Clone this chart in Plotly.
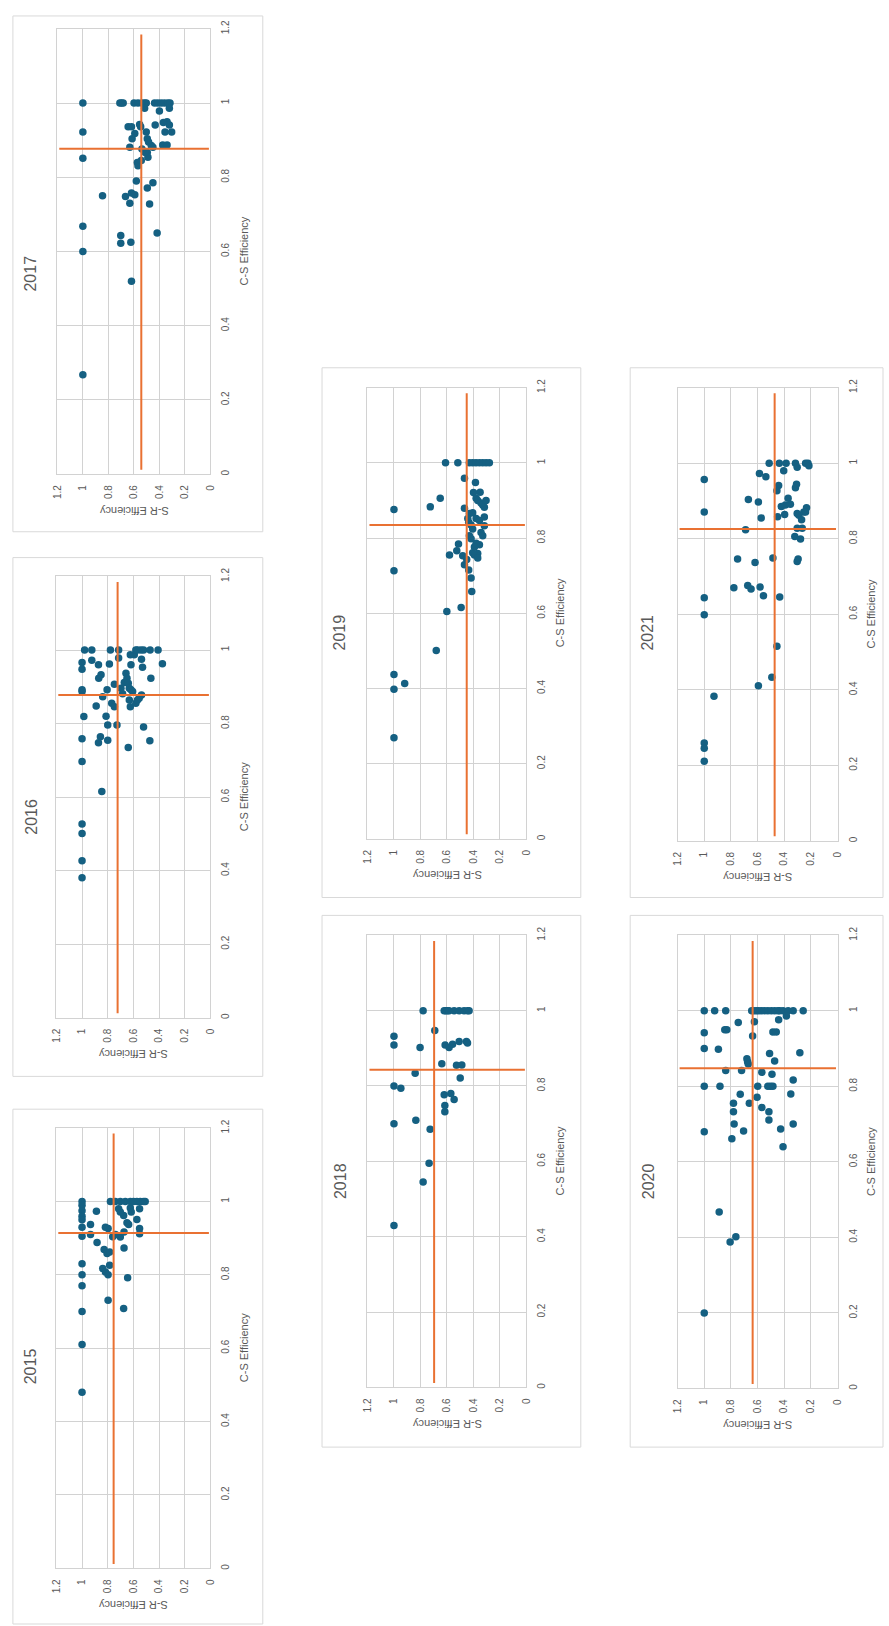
import plotly.graph_objects as go

# ---------------- data ----------------
YEARS = ["2015", "2016", "2017", "2018", "2019", "2020", "2021"]
AXIS_TICKS = [0, 0.2, 0.4, 0.6, 0.8, 1, 1.2]
AXIS_TICK_TEXT = ["0", "0.2", "0.4", "0.6", "0.8", "1", "1.2"]
X_TITLE = "C-S Efficiency"
Y_TITLE = "S-R Efficiency"

SR_2015 = [1.0, 1.0, 1.0, 1.0, 1.0, 1.0, 1.0, 1.0, 1.0, 1.0, 1.0, 1.0, 1.0,
           0.888, 0.934, 0.934, 0.883, 0.828, 0.818, 0.797, 0.839, 0.818, 0.797, 0.785,
           0.805, 0.785, 0.797, 0.676, 0.645, 0.673, 0.702, 0.761, 0.74, 0.673, 0.637,
           0.65, 0.573, 0.552, 0.552, 0.552, 0.624, 0.676, 0.702, 0.715, 0.617,
           0.779, 0.741, 0.702, 0.663, 0.624, 0.599, 0.573, 0.547, 0.521, 0.508]
CS_2015 = [1.0, 0.99, 0.975, 0.96, 0.95, 0.93, 0.905, 0.83, 0.80, 0.77, 0.70, 0.61, 0.48,
           0.973, 0.937, 0.91, 0.888, 0.869, 0.93, 0.926, 0.817, 0.808, 0.80, 0.826,
           0.858, 0.862, 0.731, 0.708, 0.792, 0.873, 0.903, 0.904, 0.91, 0.917, 0.937,
           0.942, 0.951, 0.926, 0.912, 0.98, 0.982, 0.962, 0.971, 0.98, 0.971,
           1.0, 1.0, 1.0, 1.0, 1.0, 1.0, 1.0, 1.0, 1.0, 1.0]

SR_2016 = [1.0, 1.0, 1.0, 1.0, 0.986, 1.0, 1.0, 1.0, 1.0, 1.0, 1.0,
           0.98, 0.924, 0.924, 0.872, 0.87, 0.852, 0.89, 0.839, 0.805, 0.813, 0.8,
           0.857, 0.872, 0.8, 0.846, 0.779, 0.787, 0.715, 0.715, 0.728, 0.748, 0.769,
           0.748, 0.697, 0.684, 0.671, 0.658, 0.65, 0.64, 0.632, 0.619, 0.606, 0.632,
           0.624, 0.64, 0.624, 0.619, 0.593, 0.581, 0.568, 0.542, 0.521, 0.47, 0.408,
           0.537, 0.529, 0.555, 0.537, 0.581, 0.568, 0.521, 0.464, 0.472, 0.374]
CS_2016 = [0.966, 0.948, 0.892, 0.887, 0.819, 0.759, 0.697, 0.527, 0.501, 0.427, 0.381,
           1.0, 1.0, 0.972, 0.96, 0.923, 0.933, 0.848, 0.873, 0.892, 0.82, 0.796,
           0.764, 0.748, 0.755, 0.615, 1.0, 0.962, 1.0, 0.978, 0.796, 0.907, 0.855,
           0.846, 0.896, 0.881, 0.912, 0.937, 0.923, 0.91, 0.896, 0.892, 0.887, 0.864,
           0.846, 0.735, 0.987, 0.96, 0.987, 1.0, 1.0, 1.0, 1.0, 1.0, 1.0,
           0.975, 0.953, 0.869, 0.878, 0.855, 0.864, 0.791, 0.923, 0.753, 0.963]

SR_2017 = [1.0, 1.0, 1.0, 1.0, 1.0, 1.0,
           0.846, 0.71, 0.697, 0.684, 0.703, 0.703, 0.624, 0.619, 0.666, 0.632, 0.619,
           0.593, 0.581, 0.568, 0.573, 0.632, 0.614, 0.645, 0.619, 0.593, 0.547, 0.555,
           0.599, 0.568, 0.537, 0.516, 0.503, 0.516, 0.542, 0.537, 0.503, 0.495, 0.485,
           0.464, 0.451, 0.495, 0.49, 0.511, 0.495, 0.451, 0.477, 0.418,
           0.438, 0.413, 0.387, 0.361, 0.335, 0.317, 0.433, 0.4, 0.374, 0.34, 0.356,
           0.322, 0.34, 0.369, 0.304, 0.322]
CS_2017 = [1.0, 0.922, 0.851, 0.668, 0.6, 0.268,
           0.75, 1.0, 1.0, 1.0, 0.643, 0.622, 0.625, 0.52, 0.748, 0.73, 0.758,
           0.753, 0.79, 0.831, 0.84, 0.881, 0.904, 0.936, 0.936, 0.918, 0.936, 0.942,
           1.0, 1.0, 1.0, 1.0, 1.0, 0.986, 0.845, 0.876, 0.922, 0.904, 0.895,
           0.886, 0.881, 0.867, 0.854, 0.867, 0.771, 0.785, 0.728, 0.65,
           1.0, 1.0, 1.0, 1.0, 1.0, 1.0, 0.941, 0.979, 0.887, 0.887, 0.922,
           0.941, 0.95, 0.948, 0.922, 0.986]

SR_2018 = [1.0, 1.0, 1.0, 1.0, 1.0, 0.948, 0.84, 0.835, 0.803, 0.78, 0.78, 0.735,
           0.727, 0.692, 0.639, 0.621, 0.609, 0.596, 0.584, 0.546, 0.508, 0.471,
           0.445, 0.433, 0.614, 0.584, 0.558, 0.508, 0.453, 0.445, 0.528, 0.488,
           0.5, 0.621, 0.571, 0.546, 0.616, 0.616]
CS_2018 = [0.932, 0.909, 0.8, 0.7, 0.43, 0.794, 0.834, 0.709, 0.902, 1.0, 0.545, 0.595,
           0.685, 0.947, 0.859, 1.0, 1.0, 1.0, 1.0, 1.0, 1.0, 1.0,
           1.0, 1.0, 0.909, 0.902, 0.911, 0.918, 0.918, 0.914, 0.855, 0.856,
           0.821, 0.777, 0.78, 0.764, 0.748, 0.732]

SR_2019 = [1.0, 1.0, 1.0, 1.0, 1.0, 0.919, 0.726, 0.651, 0.681, 0.611, 0.601, 0.493,
           0.581, 0.526, 0.513, 0.518, 0.468, 0.468, 0.481, 0.468, 0.451, 0.436,
           0.418, 0.413, 0.431, 0.406, 0.381, 0.355, 0.33, 0.305, 0.28, 0.385, 0.4,
           0.38, 0.35, 0.368, 0.343, 0.33, 0.305, 0.318, 0.431, 0.406, 0.436, 0.38,
           0.355, 0.318, 0.418, 0.406, 0.318, 0.343, 0.33, 0.431, 0.418, 0.38, 0.355,
           0.368, 0.393, 0.406, 0.368, 0.393, 0.443]
CS_2019 = [0.876, 0.713, 0.437, 0.398, 0.269, 0.413, 0.883, 0.906, 0.501, 1.0, 0.605, 0.615,
           0.755, 0.766, 0.784, 1.0, 0.959, 0.879, 0.753, 0.729, 0.743, 0.715,
           0.694, 0.658, 1.0, 1.0, 1.0, 1.0, 1.0, 1.0, 1.0, 0.948, 0.921,
           0.906, 0.922, 0.9, 0.893, 0.888, 0.9, 0.882, 0.865, 0.867, 0.842, 0.852,
           0.847, 0.856, 0.835, 0.824, 0.833, 0.815, 0.806, 0.806, 0.798, 0.786, 0.782,
           0.759, 0.755, 0.761, 0.747, 0.776, 0.852]

SR_2020 = [1.0, 1.0, 1.0, 1.0, 1.0, 1.0, 0.922, 0.839, 0.846, 0.831, 0.894, 0.882,
           0.839, 0.888, 0.806, 0.763, 0.793, 0.781, 0.776, 0.781, 0.73, 0.705,
           0.745, 0.72, 0.68, 0.675, 0.67, 0.662, 0.644, 0.624, 0.637, 0.599, 0.604,
           0.568, 0.568, 0.629, 0.611, 0.594, 0.573, 0.548, 0.523, 0.497, 0.472,
           0.447, 0.434, 0.409, 0.371, 0.333, 0.258, 0.384, 0.442, 0.485, 0.46,
           0.51, 0.472, 0.492, 0.523, 0.503, 0.485, 0.515, 0.515, 0.427, 0.409,
           0.333, 0.351, 0.333, 0.283]
CS_2020 = [1.0, 0.942, 0.9, 0.8, 0.68, 0.2, 1.0, 1.0, 0.95, 0.95, 0.898, 0.8,
           0.842, 0.467, 0.388, 0.402, 0.661, 0.733, 0.7, 0.755, 0.779, 0.682,
           0.969, 0.842, 0.873, 0.865, 0.859, 0.755, 1.0, 0.971, 0.933, 0.8, 0.771,
           0.837, 0.744, 1.0, 1.0, 1.0, 1.0, 1.0, 1.0, 1.0, 1.0,
           1.0, 1.0, 1.0, 1.0, 1.0, 1.0, 0.986, 0.976, 0.944, 0.944,
           0.887, 0.867, 0.832, 0.8, 0.8, 0.8, 0.733, 0.711, 0.687, 0.64,
           0.817, 0.78, 0.7, 0.889]

SR_2021 = [1.0, 1.0, 1.0, 1.0, 1.0, 1.0, 1.0, 0.927, 0.778, 0.75, 0.69, 0.669,
           0.674, 0.649, 0.619, 0.594, 0.594, 0.586, 0.581, 0.573, 0.556, 0.538,
           0.513, 0.493, 0.485, 0.455, 0.45, 0.442, 0.455, 0.434, 0.422, 0.437,
           0.404, 0.397, 0.392, 0.371, 0.354, 0.386, 0.316, 0.303, 0.316, 0.308,
           0.303, 0.29, 0.303, 0.321, 0.278, 0.296, 0.303, 0.27, 0.265, 0.253,
           0.233, 0.24, 0.24, 0.222, 0.215]
CS_2021 = [0.957, 0.871, 0.644, 0.599, 0.259, 0.245, 0.211, 0.383, 0.67, 0.746, 0.824, 0.904,
           0.676, 0.667, 0.737, 0.411, 0.897, 0.973, 0.672, 0.855, 0.649, 0.964,
           1.0, 0.433, 0.749, 0.515, 0.858, 0.941, 0.927, 0.646, 0.885, 1.0,
           0.98, 0.864, 0.889, 0.907, 0.891, 1.0, 1.0, 0.989, 0.935, 0.944,
           0.867, 0.862, 0.828, 0.806, 0.799, 0.746, 0.74, 0.85, 0.828, 0.871,
           0.882, 0.871, 1.0, 1.0, 0.993]

SR_ALL = [SR_2015, SR_2016, SR_2017, SR_2018, SR_2019, SR_2020, SR_2021]
CS_ALL = [CS_2015, CS_2016, CS_2017, CS_2018, CS_2019, CS_2020, CS_2021]

# reference (average) lines
SR_AVG = [0.754, 0.723, 0.542, 0.697, 0.451, 0.637, 0.472]
CS_AVG = [0.914, 0.878, 0.877, 0.843, 0.835, 0.848, 0.826]
LINE_SPAN = [0.012, 1.185]

# ---------------- layout geometry (pixels) ----------------
W, H = 889, 1626
# plot areas: (left, right, top, bottom)
PLOTS = [(51, 207, 1126, 1569), (51, 207, 571, 1015), (52, 207, 20, 468),
         (366, 527, 932, 1387), (366, 527, 381, 835),
         (680, 842, 932, 1388), (680, 842, 381, 837)]
# chart boxes: (left, right, top, bottom)
BOXES = [(7, 260, 1107, 1625), (7, 260, 552, 1074), (7, 260, 7, 526),
         (320, 582, 912, 1447), (320, 582, 361, 894),
         (632, 888, 912, 1447), (632, 888, 361, 894)]

BLUE = "#156082"
ORANGE = "#E97132"
GRID = "#d2d2d2"
TXT = "#595959"
FONT = "Liberation Sans, Arial, sans-serif"


def px_x(v):
    return v / W


def px_y(v):
    return 1 - v / H


fig = go.Figure()
annotations = []
shapes = []

for i, year in enumerate(YEARS):
    n = i + 1
    xa = "x" if n == 1 else f"x{n}"
    ya = "y" if n == 1 else f"y{n}"
    l, r, t, b = PLOTS[i]

    fig.add_trace(go.Scatter(
        x=SR_ALL[i], y=CS_ALL[i], mode="markers",
        marker=dict(color=BLUE, size=7.5, line=dict(width=0)),
        xaxis=xa, yaxis=ya, showlegend=False, hoverinfo="x+y"))
    fig.add_trace(go.Scatter(
        x=[SR_AVG[i], SR_AVG[i]], y=LINE_SPAN, mode="lines",
        line=dict(color=ORANGE, width=2), xaxis=xa, yaxis=ya, showlegend=False))
    fig.add_trace(go.Scatter(
        x=[LINE_SPAN[1], LINE_SPAN[0]], y=[CS_AVG[i], CS_AVG[i]], mode="lines",
        line=dict(color=ORANGE, width=2), xaxis=xa, yaxis=ya, showlegend=False))

    common = dict(
        tickvals=AXIS_TICKS, ticktext=AXIS_TICK_TEXT, tickangle=-90,
        showgrid=True, gridcolor=GRID, gridwidth=1, zeroline=False,
        showline=True, linecolor=GRID, linewidth=1, mirror=True,
        ticks="", ticklabelstandoff=6,
        tickfont=dict(family=FONT, size=10, color=TXT), fixedrange=True)
    fig.layout[("xaxis" if n == 1 else f"xaxis{n}")] = dict(
        domain=[px_x(l), px_x(r)], range=[1.2, 0], anchor=ya, side="bottom", **common)
    fig.layout[("yaxis" if n == 1 else f"yaxis{n}")] = dict(
        domain=[px_y(b), px_y(t)], range=[0, 1.2], anchor=xa, side="right", **common)

    bl, br, bt, bb = BOXES[i]
    shapes.append(dict(type="rect", xref="paper", yref="paper",
                       x0=px_x(bl), x1=px_x(br), y0=px_y(bb), y1=px_y(bt),
                       line=dict(color="#d9d9d9", width=1), fillcolor="rgba(0,0,0,0)",
                       layer="below"))

    # year title
    annotations.append(dict(
        text=year, x=px_x(bl + 18), y=px_y((bt + bb) / 2), xref="paper", yref="paper",
        showarrow=False, textangle=-90, xanchor="center", yanchor="middle",
        font=dict(family=FONT, size=16, color=TXT)))
    # C-S axis title (right side)
    annotations.append(dict(
        text=X_TITLE, x=px_x(r + 34), y=px_y((t + b) / 2), xref="paper", yref="paper",
        showarrow=False, textangle=-90, xanchor="center", yanchor="middle",
        font=dict(family=FONT, size=11, color=TXT)))
    # S-R axis title (bottom)
    annotations.append(dict(
        text=Y_TITLE, x=px_x((l + r) / 2), y=px_y(b + 37), xref="paper", yref="paper",
        showarrow=False, textangle=180, xanchor="center", yanchor="middle",
        font=dict(family=FONT, size=11, color=TXT)))

fig.update_layout(
    width=W, height=H, margin=dict(l=0, r=0, t=0, b=0, pad=0),
    paper_bgcolor="white", plot_bgcolor="white", showlegend=False,
    annotations=annotations, shapes=shapes, font=dict(family=FONT, color=TXT))

fig.write_html(
    "out.html",
    config={"displayModeBar": False},
    post_script="document.body.style.margin='0';document.body.style.padding='0';"
                "document.body.style.overflow='hidden';")
